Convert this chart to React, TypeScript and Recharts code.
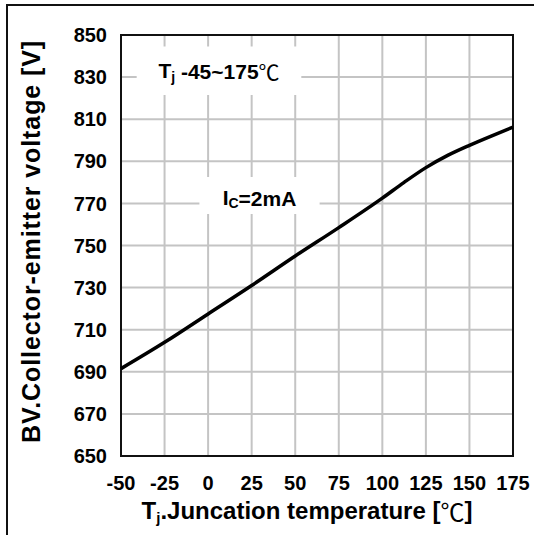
import React from "react";
import {
  CartesianGrid,
  Label,
  Line,
  LineChart,
  ReferenceArea,
  XAxis,
  YAxis,
} from "recharts";

const temps = [-50, -25, 0, 25, 50, 75, 100, 112.5, 125, 137.5, 150, 162.5, 175];
const bvValues = [691.5, 704, 717.5, 731, 745, 758.5, 772.5, 780, 787, 792.8, 797.6, 802, 806.2];
const xTicks = [-50, -25, 0, 25, 50, 75, 100, 125, 150, 175];
const yTicks = [650, 670, 690, 710, 730, 750, 770, 790, 810, 830, 850];

const data = temps.map((t, i) => ({ t, bv: bvValues[i] }));

const FONT = "Arial, 'Liberation Sans', sans-serif";
const CJK = "'Noto Sans CJK JP', 'Noto Sans CJK SC', sans-serif";

function TjLabel({ viewBox }: any) {
  const cx = viewBox.x + viewBox.width / 2;
  const cy = viewBox.y + viewBox.height / 2;
  return (
    <text
      x={cx}
      y={cy}
      textAnchor="middle"
      dominantBaseline="central"
      fontFamily={FONT}
      fontWeight="bold"
      fontSize={21}
      fill="#000"
    >
      T
      <tspan fontSize={14} dy={6}>j</tspan>
      <tspan dy={-6}>{" -45~175"}</tspan>
      <tspan fontFamily={CJK} fontWeight="normal">℃</tspan>
    </text>
  );
}

function IcLabel({ viewBox }: any) {
  const cx = viewBox.x + viewBox.width / 2;
  const cy = viewBox.y + viewBox.height / 2;
  return (
    <text
      x={cx}
      y={cy + 2}
      textAnchor="middle"
      dominantBaseline="central"
      fontFamily={FONT}
      fontWeight="bold"
      fontSize={21}
      fill="#000"
    >
      I
      <tspan fontSize={14} dy={5}>C</tspan>
      <tspan dy={-5}>=2mA</tspan>
    </text>
  );
}

function XTitle({ viewBox }: any) {
  const cx = viewBox.x + viewBox.width / 2 - 10;
  return (
    <text
      x={cx}
      y={510}
      textAnchor="middle"
      dominantBaseline="central"
      fontFamily={FONT}
      fontWeight="bold"
      fontSize={24}
      fill="#000"
    >
      T
      <tspan fontSize={15} dy={7}>j</tspan>
      <tspan dy={-7}>.Juncation temperature [</tspan>
      <tspan fontFamily={CJK} fontWeight="normal">℃</tspan>
      <tspan>]</tspan>
    </text>
  );
}

function YTitle({ viewBox }: any) {
  const cy = viewBox.y + viewBox.height / 2 - 4;
  return (
    <text
      x={31}
      y={cy}
      transform={`rotate(-90 31 ${cy})`}
      textAnchor="middle"
      dominantBaseline="central"
      fontFamily={FONT}
      fontWeight="bold"
      fontSize={25}
      letterSpacing={0.9}
      fill="#000"
    >
      BV.Collector-emitter voltage [V]
    </text>
  );
}

export default function App() {
  return (
    <div style={{ position: "absolute", left: 0, top: 0, width: 534, height: 535, background: "#fff" }}>
      <div
        style={{
          position: "absolute",
          left: 6,
          top: 4,
          width: 528,
          height: 531,
          borderTop: "2px solid #111",
          borderLeft: "2px solid #111",
          boxSizing: "border-box",
        }}
      />
      <div style={{ position: "absolute", left: 0, top: 0 }}>
        <LineChart
          width={534}
          height={535}
          data={data}
          margin={{ top: 35, right: 21, left: 0, bottom: 0 }}
        >
          <CartesianGrid stroke="#c4c4c4" strokeWidth={2} />
          <XAxis
            type="number"
            dataKey="t"
            domain={[-50, 175]}
            ticks={xTicks}
            interval={0}
            height={79}
            axisLine={false}
            tickLine={false}
            tickSize={6}
            tickMargin={14}
            tick={{ fill: "#000", fontFamily: FONT, fontWeight: "bold", fontSize: 20 }}
          >
            <Label content={<XTitle />} />
          </XAxis>
          <YAxis
            type="number"
            domain={[650, 850]}
            ticks={yTicks}
            interval={0}
            width={121}
            axisLine={false}
            tickLine={false}
            tickSize={6}
            tickMargin={8}
            tick={{ fill: "#000", fontFamily: FONT, fontWeight: "bold", fontSize: 20 }}
          >
            <Label content={<YTitle />} />
          </YAxis>
          <ReferenceArea
            x1={-41}
            x2={53.5}
            y1={821.5}
            y2={844.5}
            fill="#fff"
            fillOpacity={1}
            stroke="none"
            label={<TjLabel />}
          />
          <ReferenceArea
            x1={-5}
            x2={64}
            y1={765}
            y2={782.5}
            fill="#fff"
            fillOpacity={1}
            stroke="none"
            label={<IcLabel />}
          />
          <ReferenceArea
            x1={-50}
            x2={175}
            y1={650}
            y2={850}
            fill="none"
            stroke="#111"
            strokeWidth={2}
          />
          <Line
            type="monotone"
            dataKey="bv"
            stroke="#000"
            strokeWidth={3.5}
            dot={false}
            isAnimationActive={false}
          />
        </LineChart>
      </div>
    </div>
  );
}
